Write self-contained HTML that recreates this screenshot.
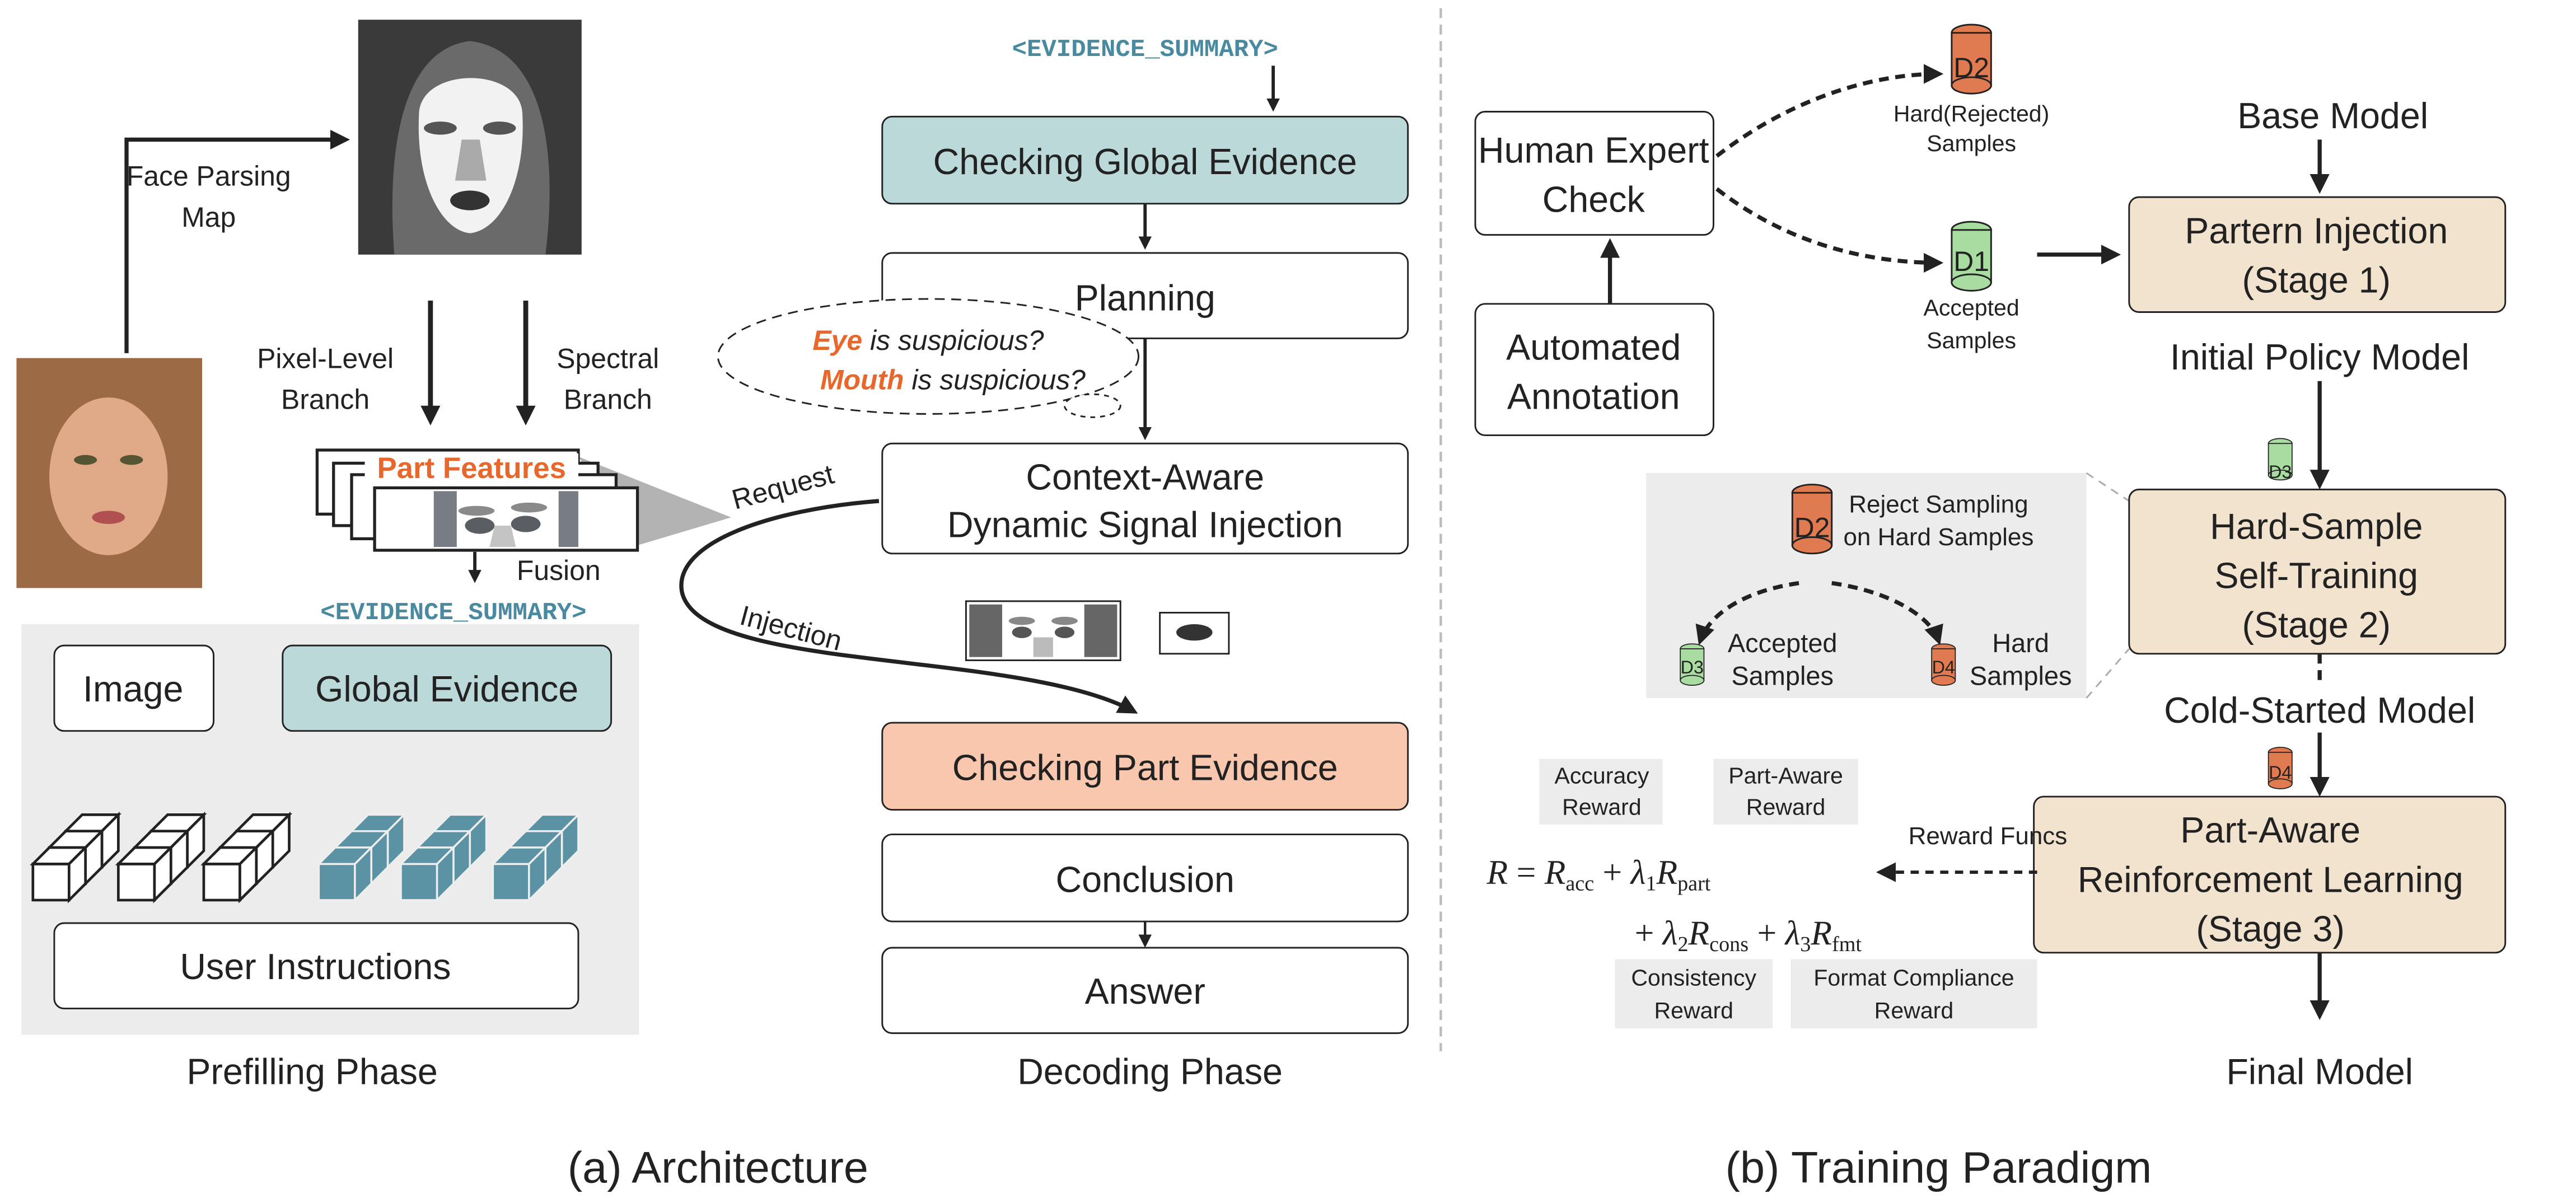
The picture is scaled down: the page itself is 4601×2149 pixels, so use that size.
<!DOCTYPE html>
<html><head><meta charset="utf-8"><style>
html,body{margin:0;padding:0;background:#fff;}
svg{display:block;}
text{font-family:"Liberation Sans",sans-serif;fill:#222;}
.b{font-size:22px;text-anchor:middle;}
.s{font-size:17px;text-anchor:middle;}
.xs{font-size:14px;text-anchor:middle;}
.t{font-family:"Liberation Mono",monospace;font-size:15px;fill:#4a8aa0;font-weight:bold;text-anchor:middle;}
</style></head><body>
<svg width="4601" height="2149" viewBox="0 0 1568 732.4" xmlns="http://www.w3.org/2000/svg">
<defs>
<marker id="ar" markerWidth="8" markerHeight="8" refX="6" refY="4" orient="auto" markerUnits="userSpaceOnUse"><path d="M0,0 L8,4 L0,8 Z" fill="#222"/></marker>
<marker id="ab" markerWidth="12" markerHeight="12" refX="9" refY="6" orient="auto" markerUnits="userSpaceOnUse"><path d="M0,0 L12,6 L0,12 Z" fill="#222"/></marker>
<g id="cyl"><ellipse cx="0" cy="0" rx="12" ry="5"/><rect x="-12" y="0" width="24" height="32"/><ellipse cx="0" cy="32" rx="12" ry="5"/></g>
<g id="cw"><polygon points="0,0 22,0 22,22 0,22"/><polygon points="0,0 10,-10 32,-10 22,0"/><polygon points="22,0 32,-10 32,12 22,22"/></g>
<g id="clW" fill="#fff" stroke="#222" stroke-width="1.6" stroke-linejoin="miter">
<use href="#cw" x="20" y="-20"/><use href="#cw" x="10" y="-10"/><use href="#cw" x="0" y="0"/></g>
<g id="clT" fill="#5b93a5" stroke="#eee" stroke-width="1.2">
<use href="#cw" x="20" y="-20"/><use href="#cw" x="10" y="-10"/><use href="#cw" x="0" y="0"/></g>
</defs>

<!-- face parsing map -->
<rect x="218" y="12" width="136" height="143" fill="#3a3a3a"/>
<path d="M240,155 C235,90 245,30 286,25 C330,30 340,90 332,155 Z" fill="#6a6a6a"/>
<path d="M255,70 C255,40 318,40 318,70 C320,110 305,140 286,142 C268,140 253,110 255,70 Z" fill="#f2f2f2"/>
<ellipse cx="268" cy="78" rx="10" ry="4" fill="#555"/><ellipse cx="304" cy="78" rx="10" ry="4" fill="#555"/>
<path d="M281,85 L292,85 L296,110 L277,110 Z" fill="#aaa"/>
<ellipse cx="286" cy="122" rx="12" ry="6" fill="#333"/>
<!-- photo -->
<rect x="10" y="218" width="113" height="140" fill="#9c6a44"/>
<ellipse cx="66" cy="290" rx="36" ry="48" fill="#e0aa88"/>
<ellipse cx="52" cy="280" rx="7" ry="3" fill="#553"/><ellipse cx="80" cy="280" rx="7" ry="3" fill="#553"/>
<ellipse cx="66" cy="315" rx="10" ry="4" fill="#b05050"/>
<!-- face parsing arrow -->
<path d="M77,215 L77,85 L210,85" fill="none" stroke="#222" stroke-width="2.5" marker-end="url(#ab)"/>
<text class="s" x="127" y="113">Face Parsing</text><text class="s" x="127" y="138">Map</text>
<path d="M262,183 L262,256" stroke="#222" stroke-width="3" marker-end="url(#ab)"/>
<path d="M320,183 L320,256" stroke="#222" stroke-width="3" marker-end="url(#ab)"/>
<text class="s" x="198" y="224">Pixel-Level</text><text class="s" x="198" y="249">Branch</text>
<text class="s" x="370" y="224">Spectral</text><text class="s" x="370" y="249">Branch</text>
<!-- part features -->
<polygon points="352,278 445,315 388,332" fill="#b3b3b3"/>
<rect x="193" y="274" width="159" height="39" fill="#fff" stroke="#222" stroke-width="1.8"/>
<rect x="203" y="282" width="161" height="38" fill="#fff" stroke="#222" stroke-width="1.8"/>
<rect x="214" y="289" width="161" height="39" fill="#fff" stroke="#222" stroke-width="1.8"/>
<rect x="228" y="297" width="160" height="38" fill="#fff" stroke="#222" stroke-width="1.8"/>
<rect x="264" y="299" width="14" height="34" fill="#787c84"/><rect x="340" y="299" width="12" height="34" fill="#787c84"/>
<ellipse cx="290" cy="311" rx="11" ry="3" fill="#8a8a8a"/><ellipse cx="322" cy="309" rx="11" ry="3" fill="#8a8a8a"/>
<ellipse cx="292" cy="320" rx="9" ry="5" fill="#5a5d62"/><ellipse cx="320" cy="319" rx="9" ry="5" fill="#5a5d62"/>
<path d="M301,320 L311,320 L314,333 L298,333 Z" fill="#c4c4c4"/>
<rect x="222" y="276" width="130" height="18" fill="#fff"/>
<text x="287" y="291" style="font-size:18px;font-weight:bold;fill:#e8672c;text-anchor:middle">Part Features</text>
<path d="M289,336 L289,353" stroke="#222" stroke-width="2" marker-end="url(#ar)"/>
<text class="s" x="340" y="353">Fusion</text>
<text class="t" x="276" y="377">&lt;EVIDENCE_SUMMARY&gt;</text>
<rect x="13" y="380" width="376" height="250" fill="#ececec"/>
<rect x="33" y="393" width="97" height="52" rx="6" fill="#fff" stroke="#222"/>
<text class="b" x="81" y="427">Image</text>
<rect x="172" y="393" width="200" height="52" rx="6" fill="#bcd9d9" stroke="#222"/>
<text class="b" x="272" y="427">Global Evidence</text>
<use href="#clW" x="20" y="526"/><use href="#clW" x="72" y="526"/><use href="#clW" x="124" y="526"/>
<use href="#clT" x="194" y="526"/><use href="#clT" x="244" y="526"/><use href="#clT" x="300" y="526"/>
<rect x="33" y="562" width="319" height="52" rx="6" fill="#fff" stroke="#222"/>
<text class="b" x="192" y="596">User Instructions</text>
<text class="b" x="190" y="660">Prefilling Phase</text>
<text x="437" y="720" style="font-size:27px;text-anchor:middle">(a) Architecture</text>

<!-- decoding -->
<text class="t" x="697" y="34">&lt;EVIDENCE_SUMMARY&gt;</text>
<path d="M775,40 L775,66" stroke="#222" stroke-width="2" marker-end="url(#ar)"/>
<rect x="537" y="71" width="320" height="53" rx="6" fill="#bcd9d9" stroke="#222"/>
<text class="b" x="697" y="106">Checking Global Evidence</text>
<path d="M697,124 L697,150" stroke="#222" stroke-width="2" marker-end="url(#ar)"/>
<rect x="537" y="154" width="320" height="52" rx="6" fill="#fff" stroke="#222"/>
<text class="b" x="697" y="189">Planning</text>
<path d="M697,206 L697,266" stroke="#222" stroke-width="2" marker-end="url(#ar)"/>
<ellipse cx="565" cy="217" rx="128" ry="35" fill="#fff" stroke="#222" stroke-dasharray="6,4"/>
<ellipse cx="665" cy="247" rx="17" ry="7" fill="#fff" stroke="#222" stroke-dasharray="3,3"/>
<text x="565" y="213" style="font-size:17px;font-style:italic;text-anchor:middle"><tspan style="fill:#e8672c;font-weight:bold">Eye</tspan> is suspicious?</text>
<text x="580" y="237" style="font-size:17px;font-style:italic;text-anchor:middle"><tspan style="fill:#e8672c;font-weight:bold">Mouth</tspan> is suspicious?</text>
<rect x="537" y="270" width="320" height="67" rx="6" fill="#fff" stroke="#222"/>
<text class="b" x="697" y="298">Context-Aware</text><text class="b" x="697" y="327">Dynamic Signal Injection</text>
<path d="M535,305 C470,310 410,330 415,360 C425,410 620,395 690,433" fill="none" stroke="#222" stroke-width="2.5" marker-end="url(#ab)"/>
<text class="s" x="478" y="302" transform="rotate(-15 478 302)">Request</text>
<text class="s" x="480" y="388" transform="rotate(15 480 388)">Injection</text>
<rect x="588" y="366" width="94" height="36" fill="#fff" stroke="#222"/>
<rect x="590" y="368" width="20" height="32" fill="#666"/><rect x="660" y="368" width="20" height="32" fill="#666"/>
<ellipse cx="622" cy="378" rx="8" ry="2.5" fill="#888"/><ellipse cx="648" cy="378" rx="8" ry="2.5" fill="#888"/>
<ellipse cx="622" cy="385" rx="6" ry="3.5" fill="#555"/><ellipse cx="648" cy="385" rx="6" ry="3.5" fill="#555"/>
<rect x="629" y="388" width="12" height="12" fill="#bbb"/>
<rect x="706" y="373" width="42" height="25" fill="#fff" stroke="#222"/><ellipse cx="727" cy="385" rx="11" ry="5" fill="#333"/>
<rect x="537" y="440" width="320" height="53" rx="6" fill="#f8c7ae" stroke="#222"/>
<text class="b" x="697" y="475">Checking Part Evidence</text>
<rect x="537" y="508" width="320" height="53" rx="6" fill="#fff" stroke="#222"/>
<text class="b" x="697" y="543">Conclusion</text>
<path d="M697,561 L697,575" stroke="#222" stroke-width="1.5" marker-end="url(#ar)"/>
<rect x="537" y="577" width="320" height="52" rx="6" fill="#fff" stroke="#222"/>
<text class="b" x="697" y="611">Answer</text>
<text class="b" x="700" y="660">Decoding Phase</text>

<line x1="877" y1="5" x2="877" y2="640" stroke="#bbb" stroke-width="1.5" stroke-dasharray="6,4"/>

<!-- training -->
<rect x="898" y="68" width="145" height="75" rx="6" fill="#fff" stroke="#222"/>
<text class="b" x="970" y="99">Human Expert</text><text class="b" x="970" y="129">Check</text>
<rect x="898" y="185" width="145" height="80" rx="6" fill="#fff" stroke="#222"/>
<text class="b" x="970" y="219">Automated</text><text class="b" x="970" y="249">Annotation</text>
<path d="M980,185 L980,148" stroke="#222" stroke-width="2.5" marker-end="url(#ab)"/>
<path d="M1045,95 C1090,60 1140,45 1180,45" fill="none" stroke="#222" stroke-width="2.5" stroke-dasharray="6,4" marker-end="url(#ab)"/>
<path d="M1045,115 C1090,150 1140,160 1180,160" fill="none" stroke="#222" stroke-width="2.5" stroke-dasharray="6,4" marker-end="url(#ab)"/>
<use href="#cyl" x="1200" y="20" fill="#e07a50" stroke="#222"/><text class="s" x="1200" y="47">D2</text>
<text class="xs" x="1200" y="74">Hard(Rejected)</text><text class="xs" x="1200" y="92">Samples</text>
<use href="#cyl" x="1200" y="140" fill="#a8dca0" stroke="#222"/><text class="s" x="1200" y="165">D1</text>
<text class="xs" x="1200" y="192">Accepted</text><text class="xs" x="1200" y="212">Samples</text>
<path d="M1240,155 L1288,155" stroke="#222" stroke-width="2.5" marker-end="url(#ab)"/>
<text class="b" x="1420" y="78">Base Model</text>
<path d="M1412,85 L1412,115" stroke="#222" stroke-width="2.5" marker-end="url(#ab)"/>
<rect x="1296" y="120" width="229" height="70" rx="6" fill="#f2e3cf" stroke="#222"/>
<text class="b" x="1410" y="148">Partern Injection</text><text class="b" x="1410" y="178">(Stage 1)</text>
<text class="b" x="1412" y="225">Initial Policy Model</text>
<path d="M1412,232 L1412,295" stroke="#222" stroke-width="2.5" marker-end="url(#ab)"/>
<use href="#cyl" x="1388" y="270" fill="#a8dca0" stroke="#222" transform="translate(1388 270) scale(0.6) translate(-1388 -270)"/><text class="xs" x="1388" y="291" style="font-size:11px">D3</text>
<rect x="1002" y="288" width="268" height="137" fill="#ececec"/>
<line x1="1270" y1="288" x2="1296" y2="305" stroke="#aaa" stroke-dasharray="5,4"/>
<line x1="1270" y1="425" x2="1296" y2="395" stroke="#aaa" stroke-dasharray="5,4"/>
<rect x="1296" y="298" width="229" height="100" rx="6" fill="#f2e3cf" stroke="#222"/>
<text class="b" x="1410" y="328">Hard-Sample</text><text class="b" x="1410" y="358">Self-Training</text><text class="b" x="1410" y="388">(Stage 2)</text>
<use href="#cyl" x="1103" y="300" fill="#e07a50" stroke="#222"/><text class="s" x="1103" y="327">D2</text>
<text class="xs" x="1180" y="312" style="font-size:15px">Reject Sampling</text><text class="xs" x="1180" y="332" style="font-size:15px">on Hard Samples</text>
<path d="M1095,355 C1060,360 1040,375 1035,390" fill="none" stroke="#222" stroke-width="2.5" stroke-dasharray="6,4" marker-end="url(#ab)"/>
<path d="M1115,355 C1150,360 1175,375 1180,390" fill="none" stroke="#222" stroke-width="2.5" stroke-dasharray="6,4" marker-end="url(#ab)"/>
<use href="#cyl" x="1030" y="395" fill="#a8dca0" stroke="#222" transform="translate(1030 395) scale(0.6) translate(-1030 -395)"/><text class="xs" x="1030" y="410" style="font-size:11px">D3</text>
<text class="s" x="1085" y="397" style="font-size:16px">Accepted</text><text class="s" x="1085" y="417" style="font-size:16px">Samples</text>
<use href="#cyl" x="1183" y="395" fill="#e07a50" stroke="#222" transform="translate(1183 395) scale(0.6) translate(-1183 -395)"/><text class="xs" x="1183" y="410" style="font-size:11px">D4</text>
<text class="s" x="1230" y="397" style="font-size:16px">Hard</text><text class="s" x="1230" y="417" style="font-size:16px">Samples</text>
<line x1="1412" y1="398" x2="1412" y2="418" stroke="#222" stroke-width="2.5" stroke-dasharray="6,4"/>
<text class="b" x="1412" y="440">Cold-Started Model</text>
<path d="M1412,446 L1412,482" stroke="#222" stroke-width="2.5" marker-end="url(#ab)"/>
<use href="#cyl" x="1388" y="458" fill="#e07a50" stroke="#222" transform="translate(1388 458) scale(0.6) translate(-1388 -458)"/><text class="xs" x="1388" y="474" style="font-size:11px">D4</text>
<rect x="1238" y="485" width="287" height="95" rx="6" fill="#f2e3cf" stroke="#222"/>
<text class="b" x="1382" y="513">Part-Aware</text><text class="b" x="1382" y="543">Reinforcement Learning</text><text class="b" x="1382" y="573">(Stage 3)</text>
<path d="M1412,580 L1412,618" stroke="#222" stroke-width="2.5" marker-end="url(#ab)"/>
<text class="b" x="1412" y="660">Final Model</text>
<text x="1180" y="720" style="font-size:27px;text-anchor:middle">(b) Training Paradigm</text>
<!-- formula -->
<rect x="937" y="462" width="75" height="40" fill="#ececec"/><text class="xs" x="975" y="477">Accuracy</text><text class="xs" x="975" y="496">Reward</text>
<rect x="1043" y="462" width="88" height="40" fill="#ececec"/><text class="xs" x="1087" y="477">Part-Aware</text><text class="xs" x="1087" y="496">Reward</text>
<text x="1210" y="514" style="font-size:15px;text-anchor:middle">Reward Funcs</text>
<path d="M1240,531 L1145,531" stroke="#222" stroke-width="2" stroke-dasharray="5,4" marker-end="url(#ab)"/>
<text x="905" y="538" style="font-family:'Liberation Serif',serif;font-size:21px;font-style:italic">R <tspan font-style="normal">=</tspan> R<tspan font-size="13" font-style="normal" dy="4">acc</tspan><tspan dy="-4" font-style="normal"> + </tspan>λ<tspan font-size="13" font-style="normal" dy="4">1</tspan><tspan dy="-4">R</tspan><tspan font-size="13" font-style="normal" dy="4">part</tspan></text>
<text x="995" y="575" style="font-family:'Liberation Serif',serif;font-size:21px;font-style:italic"><tspan font-style="normal">+ </tspan>λ<tspan font-size="13" font-style="normal" dy="4">2</tspan><tspan dy="-4">R</tspan><tspan font-size="13" font-style="normal" dy="4">cons</tspan><tspan dy="-4" font-style="normal"> + </tspan>λ<tspan font-size="13" font-style="normal" dy="4">3</tspan><tspan dy="-4">R</tspan><tspan font-size="13" font-style="normal" dy="4">fmt</tspan></text>
<rect x="983" y="584" width="96" height="42" fill="#ececec"/><text class="xs" x="1031" y="600">Consistency</text><text class="xs" x="1031" y="620">Reward</text>
<rect x="1090" y="584" width="150" height="42" fill="#ececec"/><text class="xs" x="1165" y="600">Format Compliance</text><text class="xs" x="1165" y="620">Reward</text>
</svg>
</body></html>
